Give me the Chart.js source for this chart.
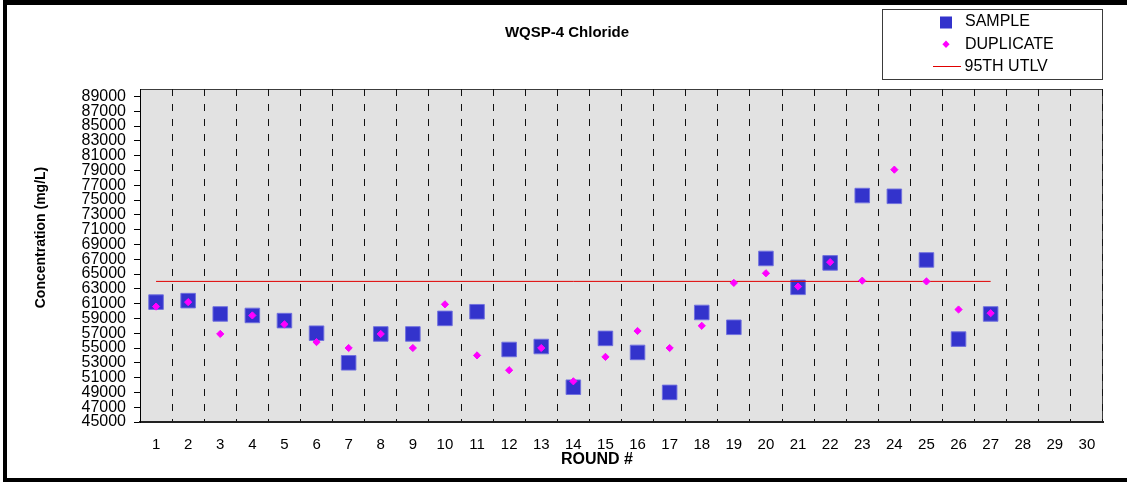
<!DOCTYPE html>
<html>
<head>
<meta charset="utf-8">
<title>WQSP-4 Chloride</title>
<script src="https://cdn.jsdelivr.net/npm/chart.js@4/dist/chart.umd.min.js"></script>
<style>
  html, body { margin: 0; padding: 0; background: #ffffff; }
  canvas { display: block; }
</style>
</head>
<body>
<canvas id="chart" width="1127" height="482"></canvas>
<script>
// Sampling rounds shown on the category axis
const rounds = ['1','2','3','4','5','6','7','8','9','10','11','12','13','14','15',
                '16','17','18','19','20','21','22','23','24','25','26','27','28','29','30'];

// Chloride concentration (mg/L), rounds 1-27
const sample = [61200, 61400, 59600, 59400, 58700, 57000, 53000, 56900, 56900, 59000,
                59900, 54800, 55200, 49700, 56300, 54400, 49000, 59800, 57800, 67100,
                63200, 66500, 75600, 75500, 66900, 56200, 59600];
const duplicate = [60600, 61200, 56900, 59400, 58200, 55800, 55000, 56900, 55000, 60900,
                   54000, 52000, 55000, 50500, 53800, 57300, 55000, 58000, 63800, 65100,
                   63300, 66600, 64100, 79100, 64000, 60200, 59700];

// 95th upper tolerance limit, drawn from the first to the last sampled round
const utlvRounds = ['1', '27'];
const utlvValues = [64000, 64000];

// Value axis tick labels
const yTickValues = [45000, 47000, 49000, 51000, 53000, 55000, 57000, 59000, 61000, 63000,
                     65000, 67000, 69000, 71000, 73000, 75000, 77000, 79000, 81000, 83000,
                     85000, 87000, 89000];

const FONT = '"Liberation Sans", Arial, Helvetica, sans-serif';
const SAMPLE_COLOR = '#3333cc';
const DUP_COLOR = '#ff00ff';
const UTLV_COLOR = '#e00000';

// Plot background, plot frame, outer frame, titles and the boxed legend
const decorations = {
  id: 'decorations',
  beforeDraw(chart) {
    const { ctx, chartArea: a } = chart;
    ctx.save();
    ctx.fillStyle = '#ffffff';
    ctx.fillRect(0, 0, chart.width, chart.height);
    ctx.fillStyle = '#e2e2e2';
    ctx.fillRect(a.left, a.top, a.right - a.left, a.bottom - a.top);
    ctx.strokeStyle = '#3c3c3c';
    ctx.lineWidth = 1;
    ctx.beginPath();
    ctx.moveTo(a.left, a.top + 0.5);
    ctx.lineTo(a.right - 0.5, a.top + 0.5);
    ctx.lineTo(a.right - 0.5, a.bottom);
    ctx.stroke();
    ctx.restore();
  },
  afterDraw(chart) {
    const { ctx } = chart;
    ctx.save();

    // outer frame
    ctx.fillStyle = '#000000';
    ctx.fillRect(3, 0, chart.width - 3, 5);
    ctx.fillRect(3, 0, 4, chart.height);
    ctx.fillRect(3, 478, chart.width - 3, 4);

    // chart title and axis titles
    ctx.fillStyle = '#000000';
    ctx.textAlign = 'center';
    ctx.textBaseline = 'middle';
    ctx.font = 'bold 15px ' + FONT;
    ctx.fillText('WQSP-4 Chloride', 567, 32.5);
    ctx.font = 'bold 16px ' + FONT;
    ctx.fillText('ROUND #', 597, 460);
    ctx.save();
    ctx.translate(41, 237.5);
    ctx.rotate(-Math.PI / 2);
    ctx.font = 'bold 14px ' + FONT;
    ctx.fillText('Concentration (mg/L)', 0, 0);
    ctx.restore();

    // legend box
    ctx.fillStyle = '#ffffff';
    ctx.fillRect(882.5, 9.5, 220, 70);
    ctx.strokeStyle = '#3a3a3a';
    ctx.lineWidth = 1;
    ctx.strokeRect(882.5, 9.5, 220, 70);

    const mx = 946;
    // sample marker
    ctx.fillStyle = SAMPLE_COLOR;
    ctx.fillRect(mx - 6, 16.5, 12, 12);
    // duplicate marker
    ctx.fillStyle = DUP_COLOR;
    ctx.beginPath();
    ctx.moveTo(mx, 40.5);
    ctx.lineTo(mx + 3.6, 44.3);
    ctx.lineTo(mx, 48.1);
    ctx.lineTo(mx - 3.6, 44.3);
    ctx.closePath();
    ctx.fill();
    // limit line
    ctx.strokeStyle = UTLV_COLOR;
    ctx.lineWidth = 1;
    ctx.beginPath();
    ctx.moveTo(933, 66.5);
    ctx.lineTo(961, 66.5);
    ctx.stroke();

    ctx.fillStyle = '#000000';
    ctx.textAlign = 'left';
    ctx.textBaseline = 'middle';
    ctx.font = '16px ' + FONT;
    ctx.fillText('SAMPLE', 965, 22);
    ctx.fillText('DUPLICATE', 965, 44.5);
    ctx.fillText('95TH UTLV', 964.5, 66.5);

    ctx.restore();
  }
};

new Chart(document.getElementById('chart'), {
  type: 'line',
  data: {
    labels: rounds,
    datasets: [
      {
        label: 'SAMPLE',
        data: sample,
        showLine: false,
        pointStyle: 'rect',
        pointRadius: 10.3,
        pointBackgroundColor: SAMPLE_COLOR,
        pointBorderColor: 'rgba(112,112,222,0.95)',
        pointBorderWidth: 1,
        order: 3
      },
      {
        label: 'DUPLICATE',
        data: duplicate,
        showLine: false,
        pointStyle: 'rectRot',
        pointRadius: 3.6,
        pointBackgroundColor: DUP_COLOR,
        pointBorderColor: DUP_COLOR,
        pointBorderWidth: 1,
        order: 1
      },
      {
        label: '95TH UTLV',
        data: utlvRounds.map((r, i) => ({ x: r, y: utlvValues[i] })),
        borderColor: UTLV_COLOR,
        borderWidth: 1,
        pointRadius: 0,
        fill: false,
        order: 2
      }
    ]
  },
  options: {
    responsive: false,
    animation: false,
    events: [],
    layout: { padding: { top: 89, right: 24, bottom: 0, left: 8 } },
    plugins: {
      legend: { display: false },
      title: { display: false },
      tooltip: { enabled: false }
    },
    scales: {
      x: {
        type: 'category',
        offset: true,
        afterFit(scale) { scale.height = 60; },
        grid: {
          offset: true,
          drawTicks: false,
          lineWidth: 1,
          color: (c) => (c.index === 0 || c.index >= rounds.length) ? 'rgba(0,0,0,0)' : '#111111'
        },
        border: { display: true, color: '#222222', width: 2, dash: [7, 8], dashOffset: 0 },
        ticks: {
          autoSkip: false,
          maxRotation: 0,
          padding: 14,
          color: '#000000',
          font: { family: FONT, size: 15 }
        }
      },
      y: {
        type: 'linear',
        min: 45000,
        max: 90000,
        afterFit(scale) { scale.width = 132; },
        afterBuildTicks(scale) {
          scale.ticks = yTickValues.map(v => ({ value: v }));
        },
        grid: {
          drawOnChartArea: false,
          drawTicks: true,
          tickLength: 6,
          color: '#000000'
        },
        border: { display: true, color: '#000000', width: 1 },
        ticks: {
          autoSkip: false,
          padding: 8,
          color: '#000000',
          font: { family: FONT, size: 16, lineHeight: 1 },
          callback: (v) => String(v)
        }
      }
    }
  },
  plugins: [decorations]
});
</script>
</body>
</html>
